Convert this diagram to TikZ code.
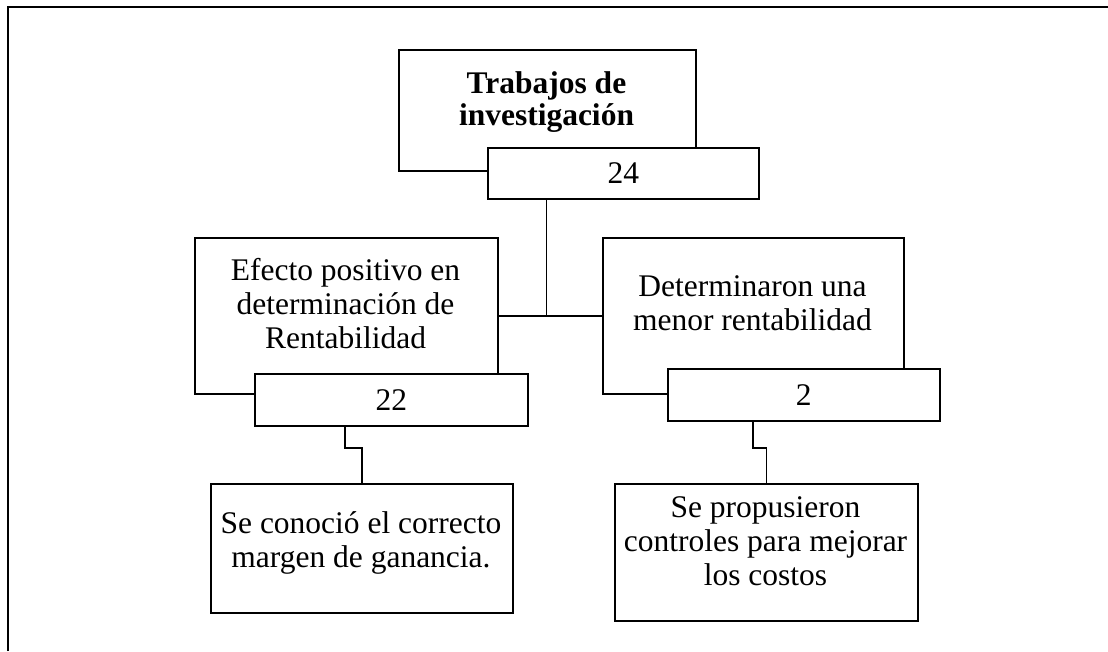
\documentclass[tikz,border=0pt]{standalone}
\usepackage{fontspec}
\setmainfont{Liberation Serif}
\begin{document}
\begin{tikzpicture}[x=1pt,y=-1pt,
  frame/.style={draw=black,line width=1.8pt},
  box/.style={draw=black,line width=1.6pt,fill=white,rectangle,inner sep=0pt,anchor=north west,
    font=\fontsize{31.5}{34}\selectfont},
  txt/.style={inner sep=0pt,anchor=base,align=center,font=\fontsize{31.5}{34}\selectfont},
  conn/.style={draw=black,line width=1.6pt}]
\useasboundingbox (0,0) rectangle (1108,651);
\draw[frame] (8,651) -- (8,7) -- (1108,7);

% main boxes
\node[box,minimum width=297pt,minimum height=121pt] (top) at (398,49) {};
\node[box,minimum width=303pt,minimum height=156pt] (left) at (194,237) {};
\node[box,minimum width=301pt,minimum height=156pt] (right) at (602,237) {};
\node[box,minimum width=302pt,minimum height=129pt] (bl) at (210,483) {};
\node[box,minimum width=303pt,minimum height=137pt] (br) at (614,483) {};

% number boxes
\node[box,minimum width=271pt,minimum height=51pt] (n24) at (487,147) {24};
\node[box,minimum width=273pt,minimum height=52pt] (n22) at (254,373) {22};
\node[box,minimum width=272pt,minimum height=52pt] (n2) at (667,368) {2};

% texts
\node[txt,font=\fontsize{31.5}{32}\selectfont\bfseries] (ttop) at (546.5,125) {Trabajos de\\investigación};
\node[txt] (tleft) at (345.5,348) {Efecto positivo en\\determinación de\\Rentabilidad};
\node[txt] (tright) at (752.5,330) {Determinaron una\\menor rentabilidad};
\node[txt] (tbl) at (361,567) {Se conoció el correcto\\margen de ganancia.};
\node[txt] (tbr) at (765.5,585) {Se propusieron\\controles para mejorar\\los costos};

% connectors
\coordinate (j) at (546.5,315);
\draw[conn] (n24.south -| j) -- (j);
\draw[conn] (left.east) -- (right.west);
\coordinate (k1) at (345,448);
\draw[conn] (n22.south -| k1) -- (k1) -| (bl.north);
\coordinate (k2) at (753,448);
\draw[conn] (n2.south -| k2) -- (k2) -| (br.north);
\end{tikzpicture}
\end{document}
